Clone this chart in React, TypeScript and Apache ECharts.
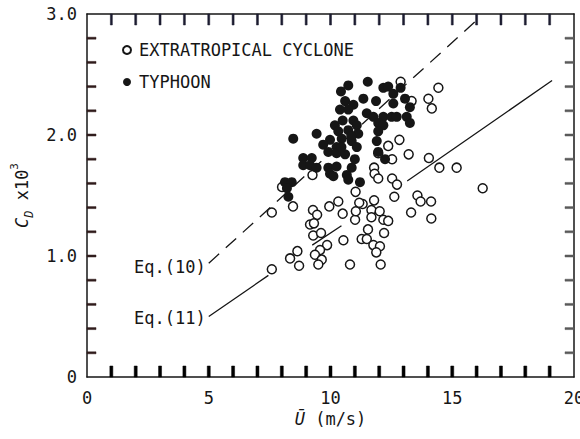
import React, { useEffect, useRef } from "react";
import * as echarts from "echarts";

// Wind speed U (m/s) vs drag coefficient CD x10^3
const typhoon: [number, number][] = [
  [8.47, 1.97], [9.43, 2.01], [10.43, 2.36], [10.73, 2.41], [11.53, 2.44], [12.17, 2.39],
  [12.37, 2.4], [12.58, 2.34], [12.88, 2.39], [10.6, 2.28], [10.94, 2.25], [11.35, 2.3],
  [11.87, 2.28], [10.39, 2.21], [10.73, 2.21], [11.49, 2.18], [11.76, 2.15], [12.17, 2.15],
  [12.51, 2.15], [12.72, 2.15], [12.58, 2.26], [13.06, 2.3], [13.26, 2.23], [13.13, 2.15],
  [13.26, 2.1], [11.96, 2.1], [12.17, 2.08], [11.96, 2.03], [10.18, 2.08], [10.94, 2.12],
  [11.08, 2.08], [10.32, 2.03], [10.73, 2.04], [11.14, 2.01], [9.98, 1.96], [10.46, 1.97],
  [10.87, 1.95], [9.7, 1.92], [10.25, 1.9], [11.08, 1.9], [9.91, 1.86], [10.25, 1.85],
  [10.6, 1.84], [11.9, 1.95], [11.96, 1.86], [12.24, 1.8], [8.88, 1.81], [9.23, 1.81],
  [8.88, 1.75], [9.16, 1.75], [9.43, 1.73], [9.91, 1.73], [10.25, 1.74], [9.98, 1.68],
  [10.12, 1.66], [10.67, 1.67], [10.87, 1.73], [10.73, 1.63], [11.21, 1.61], [8.13, 1.61],
  [8.41, 1.61], [8.21, 1.56], [8.27, 1.49], [10.5, 2.12], [10.45, 1.9], [10.85, 1.99],
  [11.0, 1.8],
];

const extratropical: [number, number][] = [
  [12.88, 2.44], [14.43, 2.39], [13.33, 2.28], [14.02, 2.3], [14.16, 2.22], [12.83, 1.96],
  [12.37, 1.91], [11.96, 1.85], [12.53, 1.8], [13.21, 1.84], [14.04, 1.81], [14.47, 1.73],
  [15.18, 1.73], [11.79, 1.73], [11.81, 1.68], [11.96, 1.64], [12.53, 1.64], [12.73, 1.59],
  [9.26, 1.67], [11.03, 1.53], [8.01, 1.57], [16.25, 1.56], [12.62, 1.49], [13.57, 1.5],
  [13.7, 1.45], [14.13, 1.45], [11.79, 1.46], [11.32, 1.43], [11.68, 1.38], [12.02, 1.37],
  [13.31, 1.36], [14.14, 1.31], [11.68, 1.32], [12.17, 1.3], [12.37, 1.29], [11.54, 1.22],
  [12.2, 1.19], [11.28, 1.14], [11.49, 1.14], [11.76, 1.09], [12.03, 1.08], [11.88, 1.03],
  [12.06, 0.93], [10.32, 1.45], [9.95, 1.41], [9.28, 1.38], [9.45, 1.34], [9.16, 1.26],
  [9.32, 1.27], [9.29, 1.17], [9.61, 1.19], [10.5, 1.35], [11.01, 1.3], [11.04, 1.37],
  [10.53, 1.13], [9.86, 1.09], [9.57, 1.05], [9.36, 1.01], [9.64, 0.97], [9.5, 0.93],
  [10.8, 0.93], [8.64, 1.04], [8.34, 0.98], [8.71, 0.92], [7.59, 1.36], [8.46, 1.41],
  [7.59, 0.89], [11.18, 1.44],
];

// Eq.(10): dashed fit; Eq.(11): solid fit, interrupted inside the point cloud
const eq10: [number, number][] = [[5, 0.94], [16.15, 2.975]];
const eq11: ([number, number] | string[])[] = [
  [5, 0.5], [7.45, 0.84], ["-", "-"], [9.25, 1.09], [10.45, 1.25], ["-", "-"], [13.15, 1.62], [19.1, 2.45],
];

// Axis ranges and tick marks (every 1 m/s, every 0.2)
const xRange = { min: 0, max: 20, step: 1, labelEvery: 5 };
const yRange = { min: 0, max: 3, step: 0.2 };
const xTickValues = [1, 2, 3, 4, 5, 6, 7, 8, 9, 10, 11, 12, 13, 14, 15, 16, 17, 18, 19];
const yTickValues = [0.2, 0.4, 0.6, 0.8, 1.0, 1.2, 1.4, 1.6, 1.8, 2.0, 2.2, 2.4, 2.6, 2.8];
const yLabelValues = [0, 1, 2, 3];

const FONT = "DejaVu Sans Mono";
const INK = "#161616";

const X_TICK_LEN = 11;
const Y_TICK_LEN = 9;

// per-edge tick styling
const tickLook = {
  bottom: { fill: "#000000", w: 3 },
  top: { fill: "#1c1c30", w: 2 },
  left: { fill: "#301c1c", w: 2 },
  right: { fill: "#5a5a5a", w: 2 },
};

// one custom series per frame edge; each tick is a thin rect placed with the axis scale
function tickSeries(edge: "bottom" | "top" | "left" | "right") {
  const vertical = edge === "bottom" || edge === "top";
  const values = vertical ? xTickValues : yTickValues;
  const { fill, w } = tickLook[edge];
  return {
    type: "custom",
    silent: true,
    z: 10,
    data: values.map((v) =>
      vertical ? [v, edge === "bottom" ? yRange.min : yRange.max] : [edge === "left" ? xRange.min : xRange.max, v]
    ),
    renderItem: (_p: any, api: any) => {
      const c = api.coord([api.value(0), api.value(1)]);
      let shape;
      if (edge === "bottom") shape = { x: c[0] - w / 2, y: c[1] - X_TICK_LEN, width: w, height: X_TICK_LEN };
      else if (edge === "top") shape = { x: c[0] - w / 2, y: c[1], width: w, height: X_TICK_LEN };
      else if (edge === "left") shape = { x: c[0], y: c[1] - w / 2, width: Y_TICK_LEN, height: w };
      else shape = { x: c[0] - Y_TICK_LEN, y: c[1] - w / 2, width: Y_TICK_LEN, height: w };
      return { type: "rect", shape, style: { fill, stroke: fill, lineWidth: 0.5 } };
    },
  };
}

export default function App() {
  const ref = useRef<HTMLDivElement>(null);

  useEffect(() => {
    if (!ref.current) return;
    const chart = echarts.init(ref.current, undefined, { renderer: "svg" });

    const axisLine = { show: true, onZero: false, lineStyle: { color: INK, width: 1.5 } };

    const eqLabel = (text: string, dy: number) => ({
      show: true,
      position: "left" as const,
      distance: 3,
      offset: [0, dy],
      formatter: text,
      color: INK,
      fontFamily: FONT,
      fontSize: 17,
    });

    chart.setOption({
      animation: false,
      backgroundColor: "#ffffff",
      textStyle: { fontFamily: FONT, color: INK },
      grid: { left: 87, right: 6, top: 14, bottom: 62, containLabel: false, outerBoundsMode: "none" },
      legend: {
        data: ["EXTRATROPICAL CYCLONE", "TYPHOON"],
        orient: "vertical",
        left: 117,
        top: 35,
        itemWidth: 8,
        itemHeight: 8,
        itemGap: 12,
        icon: "circle",
        textStyle: { fontFamily: FONT, fontSize: 17, color: INK, padding: [0, 0, 0, 3], lineHeight: 20 },
      },
      xAxis: [
        {
          type: "value",
          min: xRange.min,
          max: xRange.max,
          interval: xRange.labelEvery,
          position: "bottom",
          splitLine: { show: false },
          axisLine,
          axisTick: { show: false },
          axisLabel: { show: true, margin: 12, fontFamily: FONT, fontSize: 17, color: INK },
          name: "{u|Ū} (m/s)",
          nameLocation: "middle",
          nameGap: 31,
          nameTextStyle: {
            fontFamily: FONT,
            fontSize: 17,
            color: INK,
            rich: { u: { fontFamily: FONT, fontSize: 17, fontStyle: "italic", color: INK } },
          },
        },
        {
          type: "value",
          min: xRange.min,
          max: xRange.max,
          position: "top",
          splitLine: { show: false },
          axisLine,
          axisTick: { show: false },
          axisLabel: { show: false },
        },
      ],
      yAxis: [
        {
          type: "value",
          min: yRange.min,
          max: yRange.max,
          interval: 1,
          position: "left",
          splitLine: { show: false },
          axisLine,
          axisTick: { show: false },
          axisLabel: {
            show: true,
            margin: 10,
            fontFamily: FONT,
            fontSize: 17,
            color: INK,
            formatter: (v: number) => {
              const r = Math.round(v);
              if (!yLabelValues.includes(r)) return "";
              return r === 0 ? "0" : r.toFixed(1);
            },
          },
          name: "{c|C}{d|D}{n| x10}{s|3}",
          nameLocation: "middle",
          nameRotate: 90,
          nameGap: 52,
          nameTextStyle: {
            fontFamily: FONT,
            color: INK,
            rich: {
              c: { fontFamily: FONT, fontSize: 17, fontStyle: "italic", lineHeight: 26, color: INK },
              d: { fontFamily: FONT, fontSize: 12, fontStyle: "italic", lineHeight: 12, verticalAlign: "bottom", color: INK },
              n: { fontFamily: FONT, fontSize: 17, lineHeight: 26, color: INK },
              s: { fontFamily: FONT, fontSize: 11, lineHeight: 11, verticalAlign: "top", color: INK },
            },
          },
        },
        {
          type: "value",
          min: yRange.min,
          max: yRange.max,
          position: "right",
          splitLine: { show: false },
          axisLine,
          axisTick: { show: false },
          axisLabel: { show: false },
        },
      ],
      series: [
        {
          name: "Eq.(10)",
          type: "line",
          silent: true,
          z: 1,
          symbol: "circle",
          symbolSize: 0,
          showSymbol: true,
          lineStyle: { color: INK, width: 1.3, type: [14, 9] },
          itemStyle: { color: INK },
          data: eq10.map((p, i) => (i === 0 ? { value: p, label: eqLabel("Eq.(10)", 4) } : { value: p })),
        },
        {
          name: "Eq.(11)",
          type: "line",
          silent: true,
          z: 1,
          symbol: "circle",
          symbolSize: 0,
          showSymbol: true,
          connectNulls: false,
          lineStyle: { color: INK, width: 1.3 },
          itemStyle: { color: INK },
          data: eq11.map((p, i) => (i === 0 ? { value: p, label: eqLabel("Eq.(11)", 1) } : { value: p })),
        },
        {
          name: "EXTRATROPICAL CYCLONE",
          type: "scatter",
          z: 3,
          symbol: "circle",
          symbolSize: 9,
          itemStyle: { color: "#ffffff", borderColor: INK, borderWidth: 1.5, opacity: 1 },
          data: extratropical,
        },
        {
          name: "TYPHOON",
          type: "scatter",
          z: 4,
          symbol: "circle",
          symbolSize: 10,
          itemStyle: { color: INK, opacity: 1 },
          data: typhoon,
        },
        tickSeries("bottom"),
        tickSeries("top"),
        tickSeries("left"),
        tickSeries("right"),
      ],
    });

    return () => chart.dispose();
  }, []);

  return (
    <div
      ref={ref}
      style={{ position: "absolute", left: 0, top: 0, width: 580, height: 439, background: "#fff" }}
    />
  );
}
